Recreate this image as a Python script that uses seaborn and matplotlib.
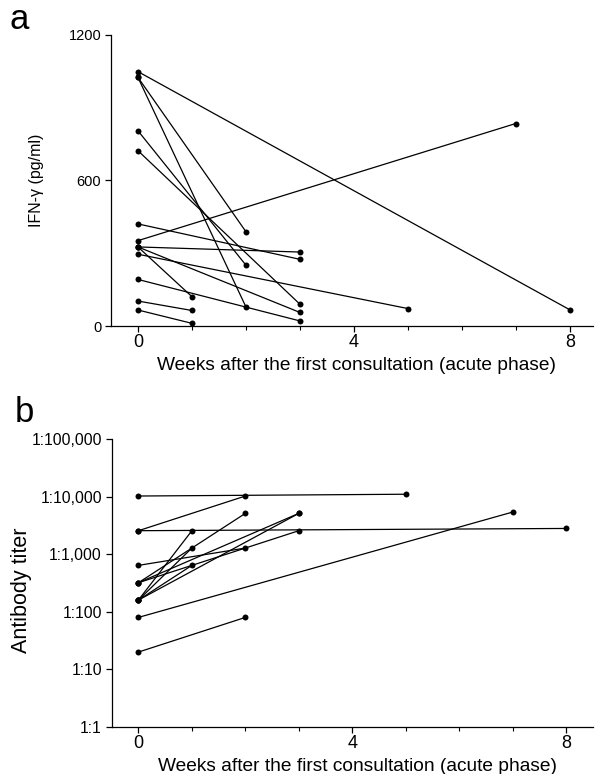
import numpy as np
import pandas as pd
import matplotlib.pyplot as plt
import seaborn as sns

# panel a: IFN-gamma, week 0 value -> follow-up value for each patient
ifn_start = [1049, 1025, 1025, 805, 723, 421, 352, 326, 326, 326, 296, 192, 103, 66]
ifn_week = [8, 2, 2, 2, 3, 3, 7, 3, 1, 3, 5, 3, 1, 1]
ifn_end = [67, 389, 79, 251, 90, 275, 835, 305, 121, 56, 72, 21, 64, 11]

# panel b: antibody titer (reciprocal dilution)
tit_start = [10240, 2560, 2560, 160, 320, 160, 640, 80, 20, 160, 160, 320, 320]
tit_week = [5, 2, 8, 1, 2, 1, 2, 7, 2, 1, 3, 3, 3]
tit_end = [11000, 10240, 2800, 2560, 5120, 1280, 1280, 5400, 80, 640, 5120, 5120, 2560]

tit_ticks = [1, 10, 100, 1000, 10000, 100000]
tit_labels = ['1:1', '1:10', '1:100', '1:1,000', '1:10,000', '1:100,000']
week_ticks = [0, 4, 8]
xlab = 'Weeks after the first consultation (acute phase)'


def long_table(start, week, end):
    rows = []
    for i in range(len(start)):
        rows.append((i, 0, start[i]))
        rows.append((i, week[i], end[i]))
    return pd.DataFrame(rows, columns=['patient', 'week', 'value'])


sns.set_style('ticks', {'axes.edgecolor': 'black', 'text.color': 'black',
                        'axes.labelcolor': 'black', 'xtick.color': 'black',
                        'ytick.color': 'black'})
plt.rcParams['font.family'] = ['Liberation Sans', 'DejaVu Sans']
plt.rcParams['axes.linewidth'] = 0.9
plt.rcParams['xtick.major.width'] = 0.9
plt.rcParams['ytick.major.width'] = 0.9
plt.rcParams['xtick.minor.width'] = 0.8

fig = plt.figure(figsize=(5.96, 7.74), dpi=100)
ax1 = fig.add_axes([0.1862, 0.5788, 0.8087, 0.376])
ax2 = fig.add_axes([0.1874, 0.0607, 0.8075, 0.3721])

dfa = long_table(ifn_start, ifn_week, ifn_end)
sns.lineplot(data=dfa, x='week', y='value', units='patient', estimator=None,
             color='k', lw=0.9, marker='o', markersize=4.3, markeredgewidth=0,
             sort=True, ax=ax1, legend=False)
ax1.set_xlim(-0.5, 8.43)
ax1.set_ylim(0, 1200)
ax1.set_yticks([0, 600, 1200])
ax1.tick_params(axis='y', labelsize=10.5)
ax1.set_ylabel('IFN-\u03b3 (pg/ml)', fontsize=11.5)
ax1.yaxis.set_label_coords(-0.139, 0.5)

dfb = long_table(tit_start, tit_week, tit_end)
sns.lineplot(data=dfb, x='week', y='value', units='patient', estimator=None,
             color='k', lw=0.9, marker='o', markersize=4.3, markeredgewidth=0,
             sort=True, ax=ax2, legend=False)
ax2.set_yscale('log')
ax2.set_xlim(-0.5, 8.5)
ax2.set_ylim(1, 100000)
ax2.set_yticks(tit_ticks)
ax2.set_yticklabels(tit_labels)
ax2.minorticks_off()
ax2.tick_params(axis='y', labelsize=11.3)
ax2.set_ylabel('Antibody titer', fontsize=15.5)
ax2.yaxis.set_label_coords(-0.166, 0.476)

for ax in (ax1, ax2):
    ax.set_xticks(week_ticks)
    ax.set_xticks(range(0, 9), minor=True)
    ax.tick_params(axis='x', which='minor', length=3, direction='out')
    ax.tick_params(axis='both', which='major', length=4, pad=3)
    ax.tick_params(axis='x', which='major', labelsize=13, pad=2)
    ax.set_xlabel(xlab, fontsize=13.8)
    ax.xaxis.set_label_coords(0.51, -0.108)
    sns.despine(ax=ax)

fig.text(0.016, 0.962, 'a', fontsize=25)
fig.text(0.024, 0.455, 'b', fontsize=25)

fig.savefig('out.png', dpi=100)
